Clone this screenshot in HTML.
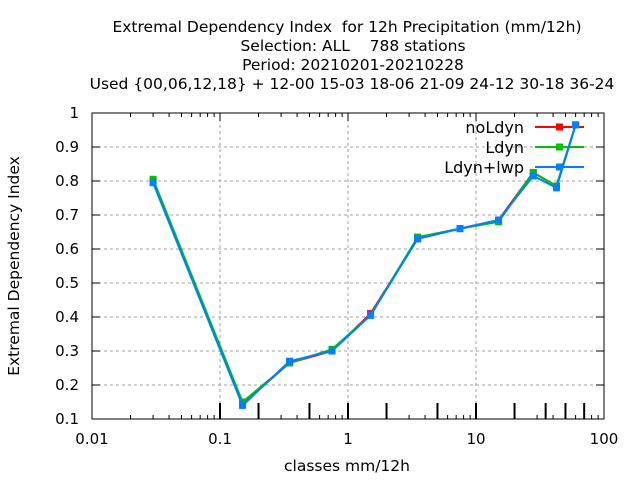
<!DOCTYPE html>
<html><head><meta charset="utf-8"><style>
body{margin:0;background:#fff;}
svg{display:block;font-family:"DejaVu Sans",sans-serif;}
text{white-space:pre;}
</style></head><body>
<svg id="c" width="640" height="480">
<g id="title" font-size="15.5" text-anchor="middle" fill="#000">
<text x="347" y="32">Extremal Dependency Index  for 12h Precipitation (mm/12h)</text>
<text x="353" y="51">Selection: ALL    788 stations</text>
<text x="353" y="70">Period: 20210201-20210228</text>
<text x="352" y="89">Used {00,06,12,18} + 12-00 15-03 18-06 21-09 24-12 30-18 36-24</text>
</g>
<text x="347" y="471" font-size="15.5" text-anchor="middle">classes mm/12h</text>
<text transform="translate(19,266) rotate(-90)" font-size="15.5" text-anchor="middle">Extremal Dependency Index</text>
</svg>
<script>
const xs=[0.03,0.15,0.35,0.75,1.5,3.5,7.5,15,28,42.5,60];
const noLdyn=[0.80,0.145,0.265,0.30,0.41,0.63,0.66,0.685,0.825,0.785,0.965];
const ldyn=[0.805,0.15,0.265,0.305,0.405,0.635,0.66,0.68,0.825,0.785,0.965];
const ldynLwp=[0.795,0.14,0.27,0.30,0.405,0.63,0.66,0.685,0.815,0.78,0.965];
const classBounds=[0.1,0.2,0.5,1,2,5,10,20,35,50,70];
const yTicks=[0.1,0.2,0.3,0.4,0.5,0.6,0.7,0.8,0.9,1];
const xTicks=[0.01,0.1,1,10,100];
const xTickLabels=["0.01","0.1","1","10","100"];
const L=92,R=604,T=113,B=419;
const X=v=>L+(Math.log10(v)+2)*(R-L)/4;
const Y=v=>B-(v-0.1)*(B-T)/0.9;
const svg=document.getElementById('c');
const NS='http://www.w3.org/2000/svg';
function mk(t,a,p){const e=document.createElementNS(NS,t);for(const k in a)e.setAttribute(k,a[k]);(p||svg).appendChild(e);return e;}
yTicks.forEach(v=>{if(v>0.1&&v<1){const g=mk('line',{x1:L,x2:R,y1:Y(v),y2:Y(v),stroke:'#a0a0a0','stroke-dasharray':'3,3','stroke-width':1});

}});
xTicks.forEach(v=>{if(v>0.01&&v<100){const g=mk('line',{x1:X(v),x2:X(v),y1:T,y2:B,stroke:'#a0a0a0','stroke-dasharray':'3,3','stroke-width':1});

}});
const fr=mk('rect',{x:L,y:T,width:R-L,height:B-T,fill:'none',stroke:'#000','stroke-width':1});


yTicks.forEach(v=>{
mk('line',{x1:L,x2:L+8,y1:Y(v),y2:Y(v),stroke:'#000'});
mk('line',{x1:R,x2:R-8,y1:Y(v),y2:Y(v),stroke:'#000'});
const t=mk('text',{x:L-13,y:Y(v)+5,'font-size':15,'text-anchor':'end'});t.textContent=String(v);


});
for(let d=-2;d<2;d++){for(let m=1;m<10;m++){const v=m*Math.pow(10,d);const len=m==1?8:4;
mk('line',{x1:X(v),x2:X(v),y1:B,y2:B-len,stroke:'#000'});
mk('line',{x1:X(v),x2:X(v),y1:T,y2:T+len,stroke:'#000'});}}
xTicks.forEach((v,i)=>{const t=mk('text',{x:X(v),y:B+25,'font-size':15,'text-anchor':'middle'});t.textContent=xTickLabels[i];

});
classBounds.forEach(v=>{const l=mk('line',{x1:X(v),x2:X(v),y1:B,y2:B-16,stroke:'#000','stroke-width':2});

});
const series=[[noLdyn,'#ff0000','noLdyn'],[ldyn,'#00c000','Ldyn'],[ldynLwp,'#0080ff','Ldyn+lwp']];
series.forEach((s,i)=>{
const g=mk('g',{});


mk('polyline',{points:xs.map((x,j)=>X(x)+','+Y(s[0][j])).join(' '),fill:'none',stroke:s[1],'stroke-width':2},g);
xs.forEach((x,j)=>{const p=mk('rect',{x:X(x)-3.5,y:Y(s[0][j])-3.5,width:7,height:7,fill:s[1]},g);

});
const ly=127+i*20;
const lg=mk('g',{});


const t=mk('text',{x:524,y:ly+6,'font-size':16,'text-anchor':'end'},lg);t.textContent=s[2];
mk('line',{x1:535,x2:584,y1:ly,y2:ly,stroke:s[1],'stroke-width':2},lg);
mk('rect',{x:556,y:ly-3.5,width:7,height:7,fill:s[1]},lg);
});
</script>
</body></html>
